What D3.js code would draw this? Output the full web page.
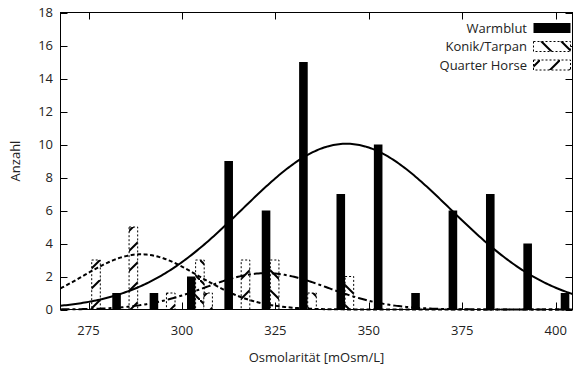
<!DOCTYPE html>
<html><head><meta charset="utf-8">
<script src="https://cdn.jsdelivr.net/npm/d3@7"></script>
<style>body{margin:0;background:#fff}svg{display:block;font-family:"Open Sans",sans-serif}</style>
</head><body><svg id="c" width="581" height="369"></svg>
<script>
// ---- data ----
const warmblutX = [282.5,292.5,302.5,312.5,322.5,332.5,342.5,352.5,362.5,372.5,382.5,392.5,402.5];
const warmblutN = [1,1,2,9,6,15,7,10,1,6,7,4,1];
const konikX = [304.8,324.8,334.8,344.8];
const konikN = [3,3,1,2];
const quarterX = [277,287,297,307,317];
const quarterN = [3,5,1,1,3];
const seriesNames = ["Warmblut","Konik/Tarpan","Quarter Horse"];
const fitMean = [344, 322.5, 289];
const fitSd = [27.8, 16.3, 15.5];
const binWidth = 10;
const xTicks = [275,300,325,350,375,400];
const yTicks = [0,2,4,6,8,10,12,14,16,18];

const svg = d3.select("#c");
const L=60.5, R=572.5, T=12.5, B=309.5;
const x = d3.scaleLinear().domain([267.5,404.5]).range([L,R]);
const y = d3.scaleLinear().domain([0,18]).range([B,T]);
const barW = x(269.8)-x(267.5);

const defs = svg.append("defs");
function hatch(id, back){
  const p = defs.append("pattern").attr("id",id).attr("patternUnits","userSpaceOnUse")
    .attr("width",20).attr("height",20);
  p.append("rect").attr("width",20).attr("height",20).attr("fill","#fff");
  if(back){
    p.append("line").attr("x1",0).attr("y1",0).attr("x2",20).attr("y2",20).attr("stroke","#000").attr("stroke-width",2);
  } else {
    p.append("line").attr("x1",0).attr("y1",20).attr("x2",20).attr("y2",0).attr("stroke","#000").attr("stroke-width",2);
  }
}
hatch("hK", true);
hatch("hQ", false);

const g = svg.append("g");
// bars
function bars(xs, ns, cls, fill, dotted){
  g.selectAll("rect."+cls).data(xs.map((v,i)=>({x:v,n:ns[i]}))).enter().append("rect")
    .attr("class",cls)
    .attr("x",d=>x(d.x)-barW/2).attr("width",barW)
    .attr("y",d=>y(d.n)).attr("height",d=>y(0)-y(d.n))
    .attr("fill",fill)
    .attr("stroke",dotted?"#000":"none").attr("stroke-width",1)
    .attr("stroke-dasharray",dotted?"2,2":null);
}
bars(warmblutX, warmblutN, "w", "#000", false);
bars(konikX, konikN, "k", "url(#hK)", true);
bars(quarterX, quarterN, "q", "url(#hQ)", true);

// fitted normal curves
const totals = [d3.sum(warmblutN), d3.sum(konikN), d3.sum(quarterN)];
const dashes = [null, "9,3,3,3", "4,2.5"];
const xs = d3.range(267.5, 404.6, 0.5);
const line = d3.line().x(d=>x(d[0])).y(d=>y(d[1]));
[0,1,2].forEach(i=>{
  const A = totals[i]*binWidth/(fitSd[i]*Math.sqrt(2*Math.PI));
  const pts = xs.map(v=>[v, A*Math.exp(-Math.pow(v-fitMean[i],2)/(2*fitSd[i]*fitSd[i]))]);
  g.append("path").attr("d",line(pts)).attr("fill","none").attr("stroke","#000")
    .attr("stroke-width",2).attr("stroke-dasharray",dashes[i]);
});

// frame and ticks
svg.append("rect").attr("x",L).attr("y",T).attr("width",R-L).attr("height",B-T)
  .attr("fill","none").attr("stroke","#000").attr("stroke-width",1);
const tk = svg.append("g").attr("stroke","#000").attr("stroke-width",1);
xTicks.forEach(v=>{
  const px = Math.round(x(v))+0.5;
  tk.append("line").attr("x1",px).attr("x2",px).attr("y1",B).attr("y2",B-7);
  tk.append("line").attr("x1",px).attr("x2",px).attr("y1",T).attr("y2",T+7);
});
yTicks.forEach(v=>{
  const py = Math.round(y(v))+0.5;
  tk.append("line").attr("x1",L).attr("x2",L+7).attr("y1",py).attr("y2",py);
  tk.append("line").attr("x1",R).attr("x2",R-7).attr("y1",py).attr("y2",py);
});
const txt = svg.append("g").attr("font-size",13).attr("fill","#222");
xTicks.forEach(v=>{
  txt.append("text").attr("x",x(v)).attr("y",335).attr("text-anchor","middle").text(v);
});
yTicks.forEach(v=>{
  txt.append("text").attr("x",53).attr("y",y(v)+4.5).attr("text-anchor","end").text(v);
});
txt.append("text").attr("x",(L+R)/2).attr("y",362).attr("text-anchor","middle").text("Osmolarität [mOsm/L]");
txt.append("text").attr("transform","translate(20,"+((T+B)/2)+") rotate(-90)").attr("text-anchor","middle").text("Anzahl");

// legend
const fills = ["#000","url(#hK)","url(#hQ)"];
seriesNames.forEach((s,i)=>{
  const cy = 28 + i*18.5;
  txt.append("text").attr("x",527).attr("y",cy+4.5).attr("text-anchor","end").text(s);
  svg.append("rect").attr("x",533.5).attr("y",cy-5).attr("width",37).attr("height",10)
    .attr("fill",fills[i]).attr("stroke",i?"#000":"none").attr("stroke-dasharray",i?"2,2":null);
});
</script></body></html>
